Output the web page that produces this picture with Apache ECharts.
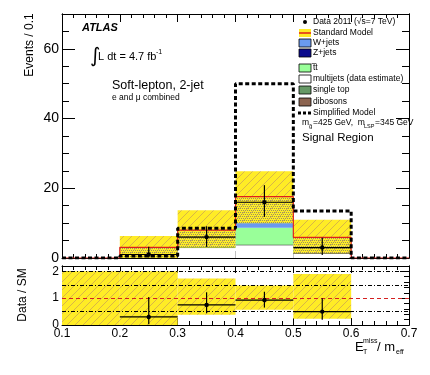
<!DOCTYPE html>
<html>
<head>
<meta charset="utf-8">
<script src="https://cdn.jsdelivr.net/npm/echarts@6/dist/echarts.min.js"></script>
<style>
html,body{margin:0;padding:0;background:#fff;}
#chart{width:430px;height:375px;}
</style>
</head>
<body>
<div id="chart"></div>
<script>
// ---- data ----
const binLo = [0.1, 0.2, 0.3, 0.4, 0.5, 0.6];
const binHi = [0.2, 0.3, 0.4, 0.5, 0.6, 0.7];
const multijets = [0, 0.2, 3.0, 3.8, 1.4, 0];
const ttbar     = [0, 1.2, 2.6, 4.9, 2.0, 0];
const wjets     = [0, 0.6, 1.0, 1.4, 0.8, 0];
const zjets     = [0, 0.3, 0.6, 2.5, 0.6, 0];
const singleTop = [0, 0.4, 0.5, 3.0, 0.7, 0];
const dibosons  = [0, 0.35, 0.3, 2.0, 0.4, 0];
const smTotal   = [0, 3.05, 8.0, 17.6, 5.9, 0];
const smBandLo  = [null, 0, 3.0, 10.0, 1.36, null];
const smBandHi  = [null, 6.3, 13.7, 24.9, 11.0, null];
const simplifiedModel = [0, 0.6, 8.5, 50, 13.5, 0];
const dataVal   = [null, 1, 6, 16, 3, null];
const dataErrLo = [null, 0.17, 3.2, 11.8, 0.86, null];
const dataErrHi = [null, 3.2, 9.1, 20.9, 5.8, null];
const ratioVal   = [null, 0.3, 0.75, 0.93, 0.5, null];
const ratioErrLo = [null, 0.03, 0.44, 0.65, 0.2, null];
const ratioErrHi = [null, 1.04, 1.22, 1.24, 1.0, null];
const ratioBandLo = [0, 0, 0.38, 0.57, 0.23, null];
const ratioBandHi = [2, 2, 1.73, 1.47, 1.9, null];
const ratioRefBlack = [0.5, 1.5, 2.0];
const ratioRefRed = [1.0];
const legendLabels = ['Data 2011 (\u221As=7 TeV)', 'Standard Model', 'W+jets', 'Z+jets', 't\u0305t', 'multijets (data estimate)', 'single top', 'dibosons', 'Simplified Model'];

// ---- patterns ----
function makePattern(dots) {
  const c = document.createElement('canvas');
  c.width = 8; c.height = 8;
  const g = c.getContext('2d');
  g.fillStyle = '#ffec26';
  g.fillRect(0, 0, 8, 8);
  g.strokeStyle = '#d8b648';
  g.lineWidth = 1;
  g.beginPath();
  g.moveTo(0, 8); g.lineTo(8, 0);
  g.moveTo(-2, 2); g.lineTo(2, -2);
  g.moveTo(6, 10); g.lineTo(10, 6);
  g.stroke();
  if (dots) {
    g.fillStyle = '#9a9460';
    for (let y = 0; y < 8; y += 2) {
      for (let x = (y % 4 === 0 ? 0 : 1); x < 8; x += 2) {
        g.fillRect(x, y, 1, 1);
      }
    }
  }
  return c;
}
const hatchFill = { image: makePattern(false), repeat: 'repeat' };
const dotFill = { image: makePattern(true), repeat: 'repeat' };

// ---- helpers ----
function rectRender(fillFn, topLine) {
  return function (params, api) {
    const p0 = api.coord([api.value(0), api.value(2)]);
    const p1 = api.coord([api.value(1), api.value(3)]);
    const children = [{
      type: 'rect',
      shape: { x: p0[0], y: p1[1], width: p1[0] - p0[0], height: p0[1] - p1[1] },
      style: { fill: fillFn, stroke: null }
    }];
    if (topLine) {
      children.push({ type: 'line', shape: { x1: p0[0], y1: p1[1], x2: p1[0], y2: p1[1] }, style: { stroke: '#000', lineWidth: 1 } });
    }
    return { type: 'group', children: children };
  };
}

const stackDefs = [
  { arr: multijets, color: '#ffffff', line: true },
  { arr: ttbar, color: '#99ff99' },
  { arr: wjets, color: '#6a9af0' },
  { arr: zjets, color: '#0a0a8c' },
  { arr: singleTop, color: '#669966' },
  { arr: dibosons, color: '#8c6450' }
];
const cum = binLo.map(() => 0);
const stackSeries = stackDefs.map((d, k) => {
  const rows = [];
  binLo.forEach((lo, i) => {
    if (d.arr[i] > 0) rows.push([lo, binHi[i], cum[i], cum[i] + d.arr[i]]);
    cum[i] += d.arr[i];
  });
  return {
    type: 'custom', xAxisIndex: 0, yAxisIndex: 0, z: 2, silent: true,
    renderItem: rectRender(d.color, !!d.line), data: rows, clip: true
  };
});

const bandLowRows = [], bandHighRows = [], ratioBandRows = [];
binLo.forEach((lo, i) => {
  if (smBandLo[i] !== null) {
    bandLowRows.push([lo, binHi[i], smBandLo[i], smTotal[i]]);
    bandHighRows.push([lo, binHi[i], smTotal[i], smBandHi[i]]);
  }
  if (ratioBandLo[i] !== null) ratioBandRows.push([lo, binHi[i], ratioBandLo[i], ratioBandHi[i]]);
});

function stepPoints(vals) {
  const pts = binLo.map((lo, i) => [lo, vals[i]]);
  pts.push([binHi[binHi.length - 1], vals[vals.length - 1]]);
  return pts;
}

function errRender(params, api) {
  const lo = api.value(0), hi = api.value(1), v = api.value(2), eLo = api.value(3), eHi = api.value(4);
  const xm = (lo + hi) / 2;
  const pc = api.coord([xm, v]);
  const pl = api.coord([lo, v]);
  const pr = api.coord([hi, v]);
  const pt = api.coord([xm, eHi]);
  const pb = api.coord([xm, eLo]);
  return {
    type: 'group',
    children: [
      { type: 'line', shape: { x1: pl[0], y1: pl[1], x2: pr[0], y2: pr[1] }, style: { stroke: '#000', lineWidth: 1.2 } },
      { type: 'line', shape: { x1: pt[0], y1: pt[1], x2: pb[0], y2: pb[1] }, style: { stroke: '#000', lineWidth: 1.2 } },
      { type: 'circle', shape: { cx: pc[0], cy: pc[1], r: 2.2 }, style: { fill: '#000' } }
    ]
  };
}
const dataRows = [], ratioRows = [];
binLo.forEach((lo, i) => {
  if (dataVal[i] !== null) dataRows.push([lo, binHi[i], dataVal[i], dataErrLo[i], dataErrHi[i]]);
  if (ratioVal[i] !== null) ratioRows.push([lo, binHi[i], ratioVal[i], ratioErrLo[i], ratioErrHi[i]]);
});

// ---- axes ----
const F = 'Liberation Sans, Arial, Helvetica, sans-serif';
function xAx(grid, pos, labels) {
  return {
    type: 'value', gridIndex: grid, position: pos, min: 0.1, max: 0.7, interval: 0.1,
    axisLine: { show: true, onZero: false, lineStyle: { color: '#000', width: 1 } },
    axisTick: { show: true, inside: true, length: pos === 'top' && grid === 0 ? 8 : 7, lineStyle: { color: '#000' } },
    minorTick: { show: true, splitNumber: 5, length: 4, lineStyle: { color: '#000' } },
    splitLine: { show: false },
    axisLabel: labels ? { show: true, fontSize: 12, fontFamily: F, color: '#000', margin: 3, formatter: v => v.toFixed(1) } : { show: false }
  };
}
function yAx(grid, pos, max, interval, tickLen, labels, fmt) {
  return {
    type: 'value', gridIndex: grid, position: pos, min: 0, max: max, interval: interval,
    axisLine: { show: true, onZero: false, lineStyle: { color: '#000', width: 1 } },
    axisTick: { show: true, inside: true, length: tickLen, lineStyle: { color: '#000' } },
    splitLine: { show: false },
    axisLabel: labels ? { show: true, fontSize: labels, fontFamily: F, color: '#000', margin: 3, showMaxLabel: false, formatter: fmt } : { show: false }
  };
}

const option = {
  backgroundColor: '#fff',
  animation: false,
  grid: [
    { left: 62, top: 14, width: 347, height: 244 },
    { left: 62, top: 266, width: 347, height: 59 }
  ],
  xAxis: [xAx(0, 'bottom', false), xAx(0, 'top', false), xAx(1, 'bottom', true), xAx(1, 'top', false)],
  yAxis: [
    yAx(0, 'left', 70, 20, 13, 14, v => String(v)),
    yAx(0, 'left', 70, 5, 7, false),
    yAx(0, 'right', 70, 20, 13, false),
    yAx(0, 'right', 70, 5, 7, false),
    yAx(1, 'left', 2.2, 1, 9, 12, v => String(Math.round(v))),
    yAx(1, 'left', 2.2, 0.2, 5, false),
    yAx(1, 'right', 2.2, 1, 9, false),
    yAx(1, 'right', 2.2, 0.2, 5, false)
  ],
  series: [
    ...stackSeries,
    { type: 'custom', xAxisIndex: 0, yAxisIndex: 0, z: 3, silent: true, clip: true, renderItem: rectRender(dotFill), data: bandLowRows },
    { type: 'custom', xAxisIndex: 0, yAxisIndex: 0, z: 3, silent: true, clip: true, renderItem: rectRender(hatchFill), data: bandHighRows },
    { type: 'line', xAxisIndex: 0, yAxisIndex: 0, z: 4, step: 'end', symbol: 'none', silent: true,
      lineStyle: { color: '#e0201a', width: 1.2 }, data: stepPoints(smTotal) },
    { type: 'line', xAxisIndex: 0, yAxisIndex: 0, z: 5, step: 'end', symbol: 'none', silent: true,
      lineStyle: { color: '#000', width: 3, type: [4, 2.5], cap: 'butt' }, data: stepPoints(simplifiedModel) },
    { type: 'custom', xAxisIndex: 0, yAxisIndex: 0, z: 6, silent: true, renderItem: errRender, data: dataRows },
    // ratio panel
    { type: 'custom', xAxisIndex: 2, yAxisIndex: 4, z: 3, silent: true, clip: true, renderItem: rectRender(hatchFill), data: ratioBandRows },
    { type: 'line', xAxisIndex: 2, yAxisIndex: 4, z: 4, symbol: 'none', silent: true, data: [],
      markLine: { silent: true, symbol: 'none', label: { show: false },
        data: ratioRefBlack.map(v => ({ yAxis: v, lineStyle: { color: '#000', width: 1, type: [4, 2, 1, 2] } }))
          .concat(ratioRefRed.map(v => ({ yAxis: v, lineStyle: { color: '#d42020', width: 1, type: [4, 3] } }))) } },
    { type: 'custom', xAxisIndex: 2, yAxisIndex: 4, z: 6, silent: true, renderItem: errRender, data: ratioRows }
  ],
  graphic: []
};

// ---- texts & legend ----
const G = option.graphic;
const T = (x, y, text, size, extra) => G.push(Object.assign({ type: 'text', x: x, y: y, z: 100, style: Object.assign({ text: text, fontSize: size, fontFamily: F, fill: '#000', verticalAlign: 'middle' }, extra || {}) }));
T(30, 45, 'Events / 0.1', 12, { align: 'center' });
G[G.length - 1].rotation = Math.PI / 2;
T(23, 295, 'Data / SM', 12, { align: 'center' });
G[G.length - 1].rotation = Math.PI / 2;
T(82, 28, 'ATLAS', 11, { fontWeight: 'bold', fontStyle: 'italic' });
T(90, 57, '\u222B', 20, { fontFamily: 'DejaVu Sans' });
T(98, 57, 'L dt = 4.7 fb', 11);
T(156, 52, '-1', 7);
T(112, 86, 'Soft-lepton, 2-jet', 12.5);
T(112, 98, 'e and \u03BC combined', 8.5);
// x title
T(355, 347, 'E', 13);
T(363, 341, 'miss', 7);
T(363, 352, 'T', 7);
T(377, 347, '/ m', 13);
T(396, 352, 'eff', 7);

// legend
const LX = 299, LT = 313;
const ly = [22, 33, 43, 53, 68, 79, 90, 102, 113];
G.push({ type: 'circle', z: 100, shape: { cx: 305, cy: ly[0], r: 2 }, style: { fill: '#000' } });
G.push({ type: 'rect', z: 100, shape: { x: LX, y: ly[1] - 4, width: 12, height: 8 }, style: { fill: '#ffec26' } });
G.push({ type: 'line', z: 101, shape: { x1: LX, y1: ly[1], x2: LX + 12, y2: ly[1] }, style: { stroke: '#e0201a', lineWidth: 1.5 } });
const boxColors = ['#6a9af0', '#0a0a8c', '#99ff99', '#ffffff', '#669966', '#8c6450'];
boxColors.forEach((c, k) => {
  G.push({ type: 'rect', z: 100, shape: { x: LX, y: ly[k + 2] - 4, width: 12, height: 8 }, style: { fill: c, stroke: '#000', lineWidth: 0.8 } });
});
G.push({ type: 'line', z: 100, shape: { x1: LX - 1, y1: ly[8], x2: LX + 12, y2: ly[8] }, style: { stroke: '#000', lineWidth: 3, lineDash: [3, 2] } });
legendLabels.forEach((t, k) => T(LT, ly[k], t, 8.5));
T(302, 123, 'm', 8.5);
T(309, 126, 'g\u0303', 6);
T(313, 123, '=425 GeV,  m', 8.5);
T(364, 126, 'LSP', 5.5);
T(375, 123, '=345 GeV', 8.5);
T(302, 138, 'Signal Region', 11.5);

const chart = echarts.init(document.getElementById('chart'), null, { renderer: 'canvas' });
chart.setOption(option);
</script>
</body>
</html>
